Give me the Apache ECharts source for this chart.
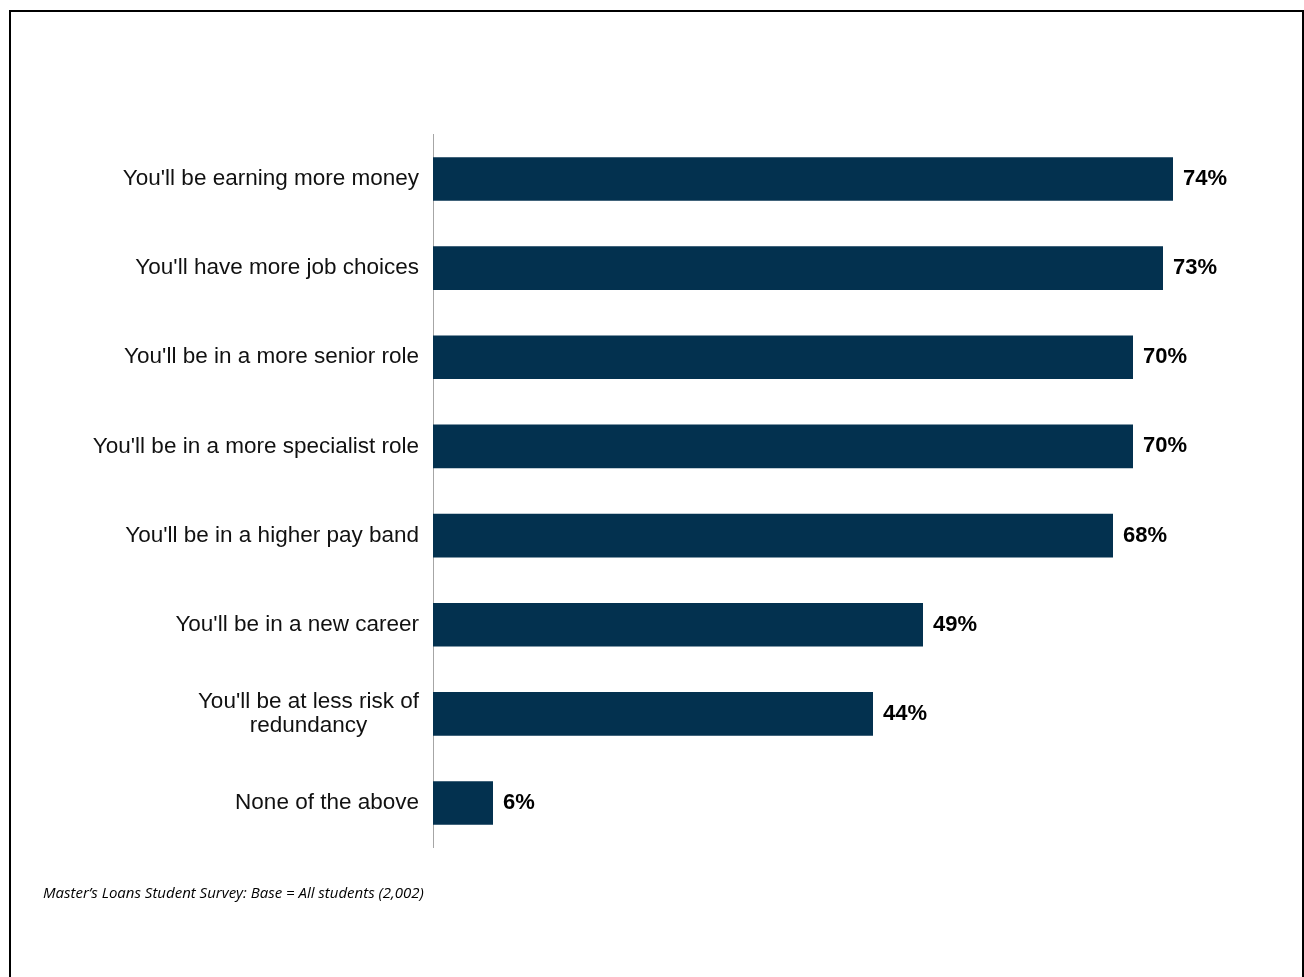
<!DOCTYPE html>
<html>
<head>
<meta charset="utf-8">
<title>Master's Loans Student Survey</title>
<script src="https://cdn.jsdelivr.net/npm/echarts@6/dist/echarts.min.js"></script>
<style>
    html, body {margin: 0; padding: 0; background: #fff; overflow: hidden;}
    #main {position: absolute; left: 0; top: 0; width: 1304px; height: 977px;}
    #frame {position: absolute; left: 9px; top: 10px; width: 1291px; height: 1000px;
        border: 2px solid #000; border-bottom: none; pointer-events: none;}
</style>
</head>
<body>
<div id="main"></div>
<div id="frame"></div>
<script>
// categories top to bottom
var categories = [
    "You'll be earning more money",
    "You'll have more job choices",
    "You'll be in a more senior role",
    "You'll be in a more specialist role",
    "You'll be in a higher pay band",
    "You'll be in a new career",
    "You'll be at less risk of\nredundancy",
    "None of the above"
];
var values = [74, 73, 70, 70, 68, 49, 44, 6];
var footnote = 'Master\u2019s Loans Student Survey: Base = All students (2,002)';

var chart = echarts.init(document.getElementById('main'));

chart.setOption({
    animation: false,
    title: {
        text: footnote,
        left: 38,
        top: 881,
        textStyle: {
            fontFamily: 'Open Sans',
            fontStyle: 'italic',
            fontWeight: 'normal',
            fontSize: 15,
            color: '#000'
        }
    },
    grid: {
        left: 433,
        right: 71,
        top: 134.4,
        bottom: 129.4,
        containLabel: false
    },
    xAxis: {
        type: 'value',
        min: 0,
        max: 80,
        show: false
    },
    yAxis: {
        type: 'category',
        data: categories,
        inverse: true,
        axisTick: {show: false},
        axisLine: {lineStyle: {color: '#a6a6a6', width: 1}},
        axisLabel: {
            margin: 14,
            fontFamily: 'Liberation Sans',
            fontSize: 22.5,
            color: '#111',
            lineHeight: 24,
            formatter: function (v) {
                return v.split('\n').map(function (s) {
                    return '{c|' + s + '}';
                }).join('\n');
            },
            rich: {
                c: {
                    align: 'center',
                    fontFamily: 'Liberation Sans',
                    fontSize: 22.5,
                    color: '#111',
                    lineHeight: 24
                }
            }
        }
    },
    series: [
        {
            type: 'bar',
            data: values,
            barWidth: '49%',
            itemStyle: {color: '#03314f'},
            label: {
                show: true,
                position: 'right',
                distance: 10,
                formatter: '{c}%',
                fontFamily: 'Liberation Sans',
                fontWeight: 'bold',
                fontSize: 22,
                color: '#000'
            }
        }
    ]
});
</script>
</body>
</html>
